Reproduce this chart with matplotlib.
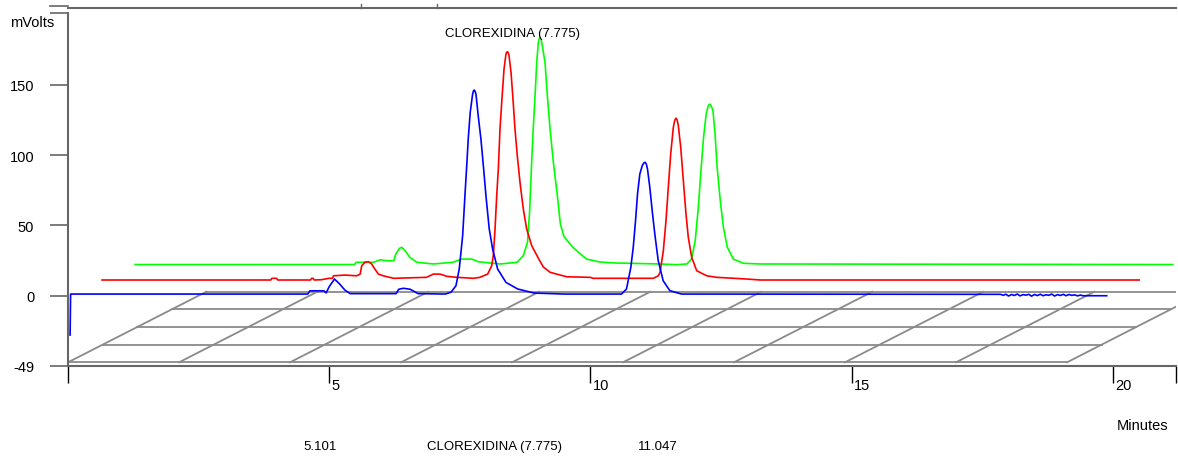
import matplotlib
matplotlib.use("Agg")
import matplotlib.pyplot as plt
from matplotlib.transforms import Affine2D

plt.rcParams["font.family"] = ["Liberation Sans", "DejaVu Sans"]

# ---------------------------------------------------------------- data
# Run 1 (front, blue): time in minutes, signal in mV
BLUE_T = [0.04, 0.05, 4.59, 4.63, 4.90, 4.94, 5.00, 5.101, 5.20, 5.30, 5.40,
          6.28, 6.33, 6.42, 6.55, 6.70, 7.22, 7.33, 7.425, 7.488, 7.553,
          7.597, 7.635, 7.660, 7.698, 7.744, 7.760, 7.775, 7.790, 7.808,
          7.851, 7.903, 7.955, 7.999, 8.062, 8.127, 8.223, 8.382, 8.606,
          8.923, 9.50,
          10.594, 10.689, 10.772, 10.818, 10.862, 10.900, 10.944, 10.990,
          11.020, 11.047, 11.070, 11.091, 11.135, 11.181, 11.231, 11.296,
          11.391, 11.518, 11.742, 17.85,
          17.90, 17.95, 18.00, 18.06, 18.11, 18.17, 18.22, 18.28, 18.33,
          18.39, 18.44, 18.50, 18.55, 18.61, 18.66, 18.72, 18.77, 18.83,
          18.88, 18.94, 18.99, 19.05, 19.10, 19.16, 19.21, 19.27, 19.32,
          19.38, 19.42, 19.88]
BLUE_MV = [-28.0, 1.2, 1.2, 3.5, 3.5, 2.0, 6.5, 11.9, 8.3, 4.0, 1.5,
           1.5, 4.6, 5.3, 4.6, 1.5, 1.2, 2.5, 7.1, 19.0, 42.7,
           71.2, 95.0, 111.5, 130.5, 143.5, 145.8, 146.4, 145.6, 143.5,
           128.1, 111.5, 90.2, 71.2, 47.5, 33.2, 19.0, 9.5, 4.8,
           1.9, 1.2,
           1.2, 4.8, 20.2, 34.4, 53.4, 72.4, 86.6, 92.5,
           94.5, 95.0, 93.5, 90.2, 77.2, 60.5, 43.9, 25.0,
           10.7, 3.6, 1.2, 1.0,
           0.3, 1.1, -0.2, 0.9, 0.2, 1.2, -0.1, 0.8, 0.4,
           1.0, -0.3, 0.9, 0.1, 1.1, 0.0, 0.7, 0.3, 1.2,
           -0.2, 0.8, 0.2, 1.0, 0.0, 0.9, 0.3, 0.6, -0.1,
           0.5, 0.0, 0.0]

# Run 2 (middle, red)
RED_T = [0.02, 3.25, 3.27, 3.36, 3.38, 4.01, 4.03, 4.06, 4.08, 4.22, 4.36,
         4.43, 4.45, 4.67, 4.89, 4.96, 4.99, 5.05, 5.116, 5.18, 5.24, 5.31,
         5.40, 5.60, 6.23, 6.36, 6.49, 6.62, 6.81, 7.13, 7.25, 7.40,
         7.478, 7.508, 7.541, 7.573, 7.604, 7.636, 7.669, 7.713, 7.751,
         7.764, 7.776, 7.792, 7.809, 7.847, 7.880, 7.923, 7.967, 8.019,
         8.082, 8.147, 8.243, 8.402, 8.465, 8.593, 8.721, 8.913, 9.359,
         9.422, 10.570, 10.666, 10.70, 10.762, 10.813, 10.857, 10.903,
         10.953, 10.980, 11.005, 11.027, 11.049, 11.095, 11.145, 11.196,
         11.240, 11.305, 11.401, 11.592, 11.784, 12.358, 12.612, 19.87]
RED_MV = [0.7, 0.7, 1.9, 1.9, 0.7, 0.7, 1.9, 1.9, 0.7, 0.9, 1.9,
          1.9, 3.7, 4.2, 3.7, 4.9, 10.9, 13.3, 13.7, 12.1, 8.5, 4.9,
          3.7, 1.9, 2.6, 4.9, 4.9, 3.3, 2.6, 1.9, 2.6, 4.9,
          10.9, 18.0, 36.9, 60.7, 79.7, 108.2, 127.2, 150.9, 161.6,
          162.8, 163.2, 162.6, 160.4, 148.5, 131.9, 108.2, 89.2, 70.2,
          51.2, 36.9, 25.1, 14.0, 10.0, 6.2, 4.9, 3.0, 2.6,
          1.9, 1.9, 3.7, 6.2, 21.5, 42.9, 66.6, 90.3,
          109.3, 114.3, 115.9, 114.5, 110.5, 95.1, 71.4, 47.6,
          31.0, 16.8, 7.3, 3.7, 2.6, 1.4, 0.7, 0.7]

# Run 3 (back, green)
GREEN_T = [0.02, 4.22, 4.25, 4.58, 4.71, 4.84, 4.97, 5.01, 5.08, 5.123,
           5.19, 5.28, 5.41, 5.73, 6.10, 6.27, 6.37, 6.46, 6.59, 6.69,
           7.01, 7.33, 7.45, 7.53, 7.57, 7.61, 7.64, 7.675, 7.707, 7.738,
           7.755, 7.770, 7.786, 7.802, 7.866, 7.910, 7.962, 8.025, 8.102,
           8.160, 8.230, 8.410, 8.660, 8.920, 9.210, 10.070, 10.390, 10.58,
           10.67, 10.74, 10.80, 10.85, 10.90, 10.95, 10.99, 11.02, 11.05,
           11.08, 11.12, 11.16, 11.22, 11.28, 11.355, 11.47, 11.66, 11.98,
           19.88]
GREEN_MV = [1.2, 1.2, 2.8, 2.8, 4.6, 3.9, 3.9, 8.7, 12.7, 13.5,
            11.0, 6.3, 2.8, 1.6, 2.8, 5.1, 5.1, 5.1, 3.2, 2.8,
            1.6, 2.8, 7.5, 17.0, 38.4, 74.0, 97.7, 121.4, 145.1, 159.4,
            162.0, 162.9, 162.0, 159.4, 145.1, 121.4, 97.7, 74.0, 50.2,
            30.0, 21.0, 13.0, 5.1, 3.0, 2.3, 1.6, 1.1, 1.6,
            5.1, 18.1, 41.9, 68.0, 91.7, 108.3, 114.2, 115.4, 113.8,
            110.7, 94.1, 70.4, 46.6, 27.7, 13.5, 5.1, 2.1, 1.6,
            1.2]

RUN_COLORS = ["#00ff00", "#ff0000", "#0000ff"]

Y_TICKS = [-49.8, 0, 50, 100, 150]
Y_TICK_LABELS = ["-49", "0", "50", "100", "150"]
X_TICKS = [5, 10, 15, 20]
X_TICK_LABELS = ["5", "10", "15", "20"]
PEAK_LABELS = ["5.101", "CLOREXIDINA (7.775)", "11.047"]
TOP_LABEL = "CLOREXIDINA (7.775)"

# ---------------------------------------------------------------- layout
W, H = 1178, 460
X_MAX, Y_MIN, Y_MAX = 21.206, -49.8, 204.8
RUN_DX, RUN_DY = 0.632, 10.5          # depth shift between stacked runs

# floor grid of the pseudo-3D view
FLOOR_FRONT, FLOOR_BACK = -47.4, 2.85
FLOOR_WIDTH, FLOOR_SKEW = 19.12, 2.647
N_ACROSS, N_DEPTH = 9, 4

AXIS_GRAY = "#666666"
GRID_GRAY = "#8a8a8a"

fig = plt.figure(figsize=(W / 100, H / 100), dpi=100)
ax = fig.add_axes([68 / W, 1 - 366.7 / H, (1176 - 68) / W, (366.7 - 9) / H])
ax.set_xlim(0, X_MAX)
ax.set_ylim(Y_MIN, Y_MAX)

# floor
for i in range(N_DEPTH + 1):
    f = i / N_DEPTH
    y = FLOOR_FRONT + f * (FLOOR_BACK - FLOOR_FRONT)
    x0 = f * FLOOR_SKEW
    ax.plot([x0, x0 + FLOOR_WIDTH], [y, y], color=GRID_GRAY, lw=1.3, zorder=1)
for k in range(N_ACROSS + 1):
    x = k * FLOOR_WIDTH / N_ACROSS
    ax.plot([x, x + FLOOR_SKEW], [FLOOR_FRONT, FLOOR_BACK],
            color=GRID_GRAY, lw=1.3, zorder=1)

# chromatograms, back to front
runs = [(GREEN_T, GREEN_MV, 2), (RED_T, RED_MV, 1), (BLUE_T, BLUE_MV, 0)]
for (t, v, depth), color in zip(runs, RUN_COLORS):
    shift = Affine2D().translate(depth * RUN_DX, depth * RUN_DY) + ax.transData
    ax.plot(t, v, color=color, lw=1.2, transform=shift, zorder=3 + (2 - depth))

ax.set_xlim(0, X_MAX)
ax.set_ylim(Y_MIN, Y_MAX)

# frame
ax.spines["right"].set_visible(False)
for side in ("left", "top", "bottom"):
    ax.spines[side].set_color(AXIS_GRAY)
    ax.spines[side].set_linewidth(1.5)
ax.spines["left"].set_bounds(Y_MIN, 201.0)

ax.set_yticks(Y_TICKS + [201.0])
ax.set_yticklabels(Y_TICK_LABELS + [""])
ax.tick_params(axis="y", direction="out", length=13, width=1.2,
               color=AXIS_GRAY, pad=11.3, labelsize=10.5)
ax.plot([-18 / 1108, 0], [206.1, 206.1], transform=ax.get_yaxis_transform(),
        clip_on=False, color=AXIS_GRAY, lw=1.2)

ax.set_xticks([0] + X_TICKS + [X_MAX])
ax.set_xticklabels([])
ax.tick_params(axis="x", direction="out", length=12.5, width=1.0, color="black")
for t, lab in zip(X_TICKS, X_TICK_LABELS):
    ax.annotate(lab, xy=(t, 0), xycoords=ax.get_xaxis_transform(),
                xytext=(1.5, -16.8), textcoords="offset points",
                ha="left", va="baseline", fontsize=10.5)

# small event marks on the top edge
for t in (5.61, 7.07):
    ax.plot([t, t], [1.0, 1.0 + 4 / 357.7], transform=ax.get_xaxis_transform(),
            clip_on=False, color=AXIS_GRAY, lw=1.0)

fig.text(10 / W, 1 - 26.7 / H, "mVolts", ha="left", va="baseline", fontsize=10.5)
fig.text(1117 / W, 1 - 430 / H, "Minutes", ha="left", va="baseline", fontsize=10.5)

# peak annotations
label_left = [4.50, 6.865, 10.915]
for x, lab in zip(label_left, PEAK_LABELS):
    ax.text(x, (366.7 - 450) / 357.7, lab, transform=ax.get_xaxis_transform(),
            ha="left", va="baseline", fontsize=9.5)
ax.text(7.215, 184.6, TOP_LABEL, ha="left", va="baseline", fontsize=9.5)

fig.savefig("out.png", dpi=100)
